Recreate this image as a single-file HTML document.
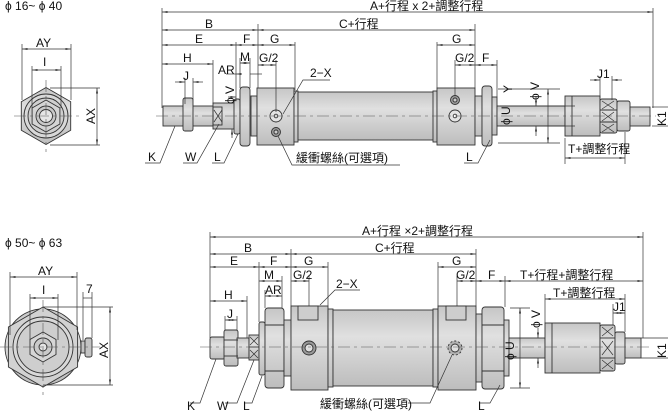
<!DOCTYPE html>
<html><head><meta charset="utf-8"><style>
html,body{margin:0;padding:0;background:#fff}
svg{display:block}
text{font-family:"Liberation Sans","Noto Sans CJK TC",sans-serif;font-size:12px;fill:#111}
.d{stroke:#333;stroke-width:.7;fill:none}
.o{stroke:#333;stroke-width:.9}
.c{stroke:#555;stroke-width:.6;stroke-dasharray:12 4 3 4;fill:none}
</style></head><body>
<svg width="669" height="413" viewBox="0 0 669 413" xmlns="http://www.w3.org/2000/svg">
<defs>
<marker id="a" markerWidth="8" markerHeight="6" refX="8" refY="3" orient="auto-start-reverse"><path d="M0,1.5 L8,3 L0,4.5z" fill="#333"/></marker>
<linearGradient id="g" x1="0" y1="0" x2="0" y2="1"><stop offset="0" stop-color="#c6c6c6"/><stop offset=".35" stop-color="#e0e0e0"/><stop offset="1" stop-color="#bdbdbd"/></linearGradient>
</defs>

<!-- ===== TOP FRONT VIEW ===== -->
<text x="5" y="10">ϕ 16~ ϕ 40</text>
<polygon class="o" fill="url(#g)" points="46,87.5 70.7,101.7 70.7,130.3 46,144.5 21.3,130.3 21.3,101.7"/>
<circle class="o" cx="46" cy="116" r="22" fill="#d8d8d8"/>
<circle class="o" cx="46" cy="116" r="18" fill="#cfcfcf"/>
<polygon class="o" fill="#d4d4d4" points="46,100 59.9,108 59.9,124 46,132 32.1,124 32.1,108"/>
<circle class="o" cx="46" cy="116" r="10" fill="#c8c8c8"/>
<circle class="o" cx="46" cy="116" r="6.5" fill="#e6e6e6"/>
<line class="c" x1="14" y1="116" x2="80" y2="116"/><line class="c" x1="46" y1="80" x2="46" y2="152"/>
<line class="d" x1="22" y1="44" x2="22" y2="100"/><line class="d" x1="71" y1="44" x2="71" y2="100"/>
<line class="d" x1="22" y1="49" x2="71" y2="49" marker-start="url(#a)" marker-end="url(#a)"/>
<text x="36" y="47">AY</text>
<line class="d" x1="32" y1="66" x2="32" y2="108"/><line class="d" x1="61" y1="66" x2="61" y2="108"/>
<line class="d" x1="32" y1="70" x2="61" y2="70" marker-start="url(#a)" marker-end="url(#a)"/>
<text x="43" y="66">I</text>
<line class="d" x1="50" y1="88" x2="100" y2="88"/><line class="d" x1="50" y1="145" x2="100" y2="145"/>
<line class="d" x1="97" y1="88" x2="97" y2="145" marker-start="url(#a)" marker-end="url(#a)"/>
<text transform="translate(95,124) rotate(-90)">AX</text>

<!-- ===== TOP SIDE VIEW ===== -->
<g class="o" fill="url(#g)">
<rect x="163" y="106" width="50" height="20"/>
<rect x="183" y="98" width="10" height="33" rx="2"/>
<rect x="213" y="103" width="23" height="26"/>
<rect x="234" y="99" width="6" height="35" rx="2"/>
<rect x="240" y="87" width="10" height="59" rx="3"/>
<rect x="251" y="96" width="6" height="40"/>
<rect x="257" y="88" width="37" height="57"/>
<rect x="294" y="91" width="4" height="51"/>
<rect x="298" y="92" width="136" height="48"/>
<rect x="433" y="91" width="4" height="51"/>
<rect x="437" y="88" width="38" height="57"/>
<rect x="475" y="96" width="7" height="40"/>
<rect x="482" y="86" width="10" height="60" rx="3"/>
<rect x="492" y="97" width="5" height="38"/>
<rect x="497" y="106" width="68" height="20"/>
<rect x="565" y="96" width="35" height="40"/>
<rect x="600" y="99" width="17" height="34" rx="2"/>
<rect x="617" y="101" width="13" height="30" rx="2"/>
<rect x="630" y="107" width="20" height="19"/>
</g>
<line class="o" x1="572" y1="96" x2="572" y2="136"/>
<line class="o" x1="600" y1="110" x2="617" y2="110"/><line class="o" x1="600" y1="122" x2="617" y2="122"/>
<path class="d" d="M602,101 l12,8 M614,101 l-12,8 M602,112 l12,9 M614,112 l-12,9 M602,124 l12,8 M614,124 l-12,8"/>
<rect class="o" x="213" y="107" width="9" height="18" fill="none"/>
<path class="d" d="M214,110 l8,12 M222,110 l-8,12"/>
<circle class="o" cx="276" cy="116" r="6" fill="#e4e4e4"/><circle class="o" cx="276" cy="116" r="1.8" fill="#fff"/>
<circle class="o" cx="276" cy="132" r="4.5" fill="#999"/><circle class="o" cx="276" cy="132" r="2" fill="#ccc"/>
<circle class="o" cx="455" cy="116" r="6" fill="#e4e4e4"/><circle class="o" cx="455" cy="116" r="1.8" fill="#fff"/>
<circle class="o" cx="455" cy="100" r="4.5" fill="#999"/><circle class="o" cx="455" cy="100" r="2" fill="#ccc"/>
<line class="c" x1="156" y1="116" x2="656" y2="116"/>

<!-- top dims -->
<g class="d">
<line x1="162" y1="8" x2="162" y2="108"/><line x1="653" y1="8" x2="653" y2="108"/>
<line x1="162" y1="12" x2="653" y2="12" marker-start="url(#a)" marker-end="url(#a)"/>
<line x1="258" y1="24" x2="258" y2="88"/><line x1="475" y1="24" x2="475" y2="88"/>
<line x1="162" y1="30" x2="258" y2="30" marker-start="url(#a)" marker-end="url(#a)"/>
<line x1="258" y1="30" x2="475" y2="30" marker-start="url(#a)" marker-end="url(#a)"/>
<line x1="236" y1="42" x2="236" y2="100"/><line x1="295" y1="42" x2="295" y2="90"/><line x1="437" y1="42" x2="437" y2="88"/>
<line x1="162" y1="45" x2="236" y2="45" marker-start="url(#a)" marker-end="url(#a)"/>
<line x1="236" y1="45" x2="258" y2="45" marker-start="url(#a)" marker-end="url(#a)"/>
<line x1="258" y1="45" x2="295" y2="45" marker-start="url(#a)" marker-end="url(#a)"/>
<line x1="437" y1="45" x2="475" y2="45" marker-start="url(#a)" marker-end="url(#a)"/>
<line x1="213" y1="60" x2="213" y2="104"/>
<line x1="162" y1="64" x2="213" y2="64" marker-start="url(#a)" marker-end="url(#a)"/>
<line x1="240" y1="58" x2="240" y2="88"/><line x1="250" y1="58" x2="250" y2="88"/>
<line x1="240" y1="63" x2="250" y2="63" marker-start="url(#a)" marker-end="url(#a)"/>
<line x1="226" y1="74" x2="236" y2="74"/><line x1="240" y1="74" x2="236" y2="74" marker-end="url(#a)"/>
<line x1="250" y1="74" x2="262" y2="74"/>
<line x1="276" y1="60" x2="276" y2="112"/>
<line x1="258" y1="65" x2="276" y2="65" marker-start="url(#a)" marker-end="url(#a)"/>
<line x1="455" y1="60" x2="455" y2="96"/><line x1="497" y1="60" x2="497" y2="97"/>
<line x1="455" y1="65" x2="475" y2="65" marker-start="url(#a)" marker-end="url(#a)"/>
<line x1="475" y1="65" x2="497" y2="65" marker-start="url(#a)" marker-end="url(#a)"/>
<line x1="185" y1="78" x2="185" y2="104"/><line x1="193" y1="78" x2="193" y2="100"/>
<line x1="175" y1="82" x2="185" y2="82" marker-end="url(#a)"/><line x1="203" y1="82" x2="193" y2="82" marker-end="url(#a)"/>
<line x1="228" y1="97" x2="236" y2="97" marker-end="url(#a)"/><line x1="232" y1="138" x2="232" y2="129" marker-end="url(#a)"/>
<line x1="498" y1="89" x2="560" y2="89"/><line x1="498" y1="143" x2="560" y2="143"/>
<line x1="548" y1="89" x2="548" y2="143" marker-start="url(#a)" marker-end="url(#a)"/>
<line x1="500" y1="106" x2="575" y2="106"/><line x1="500" y1="126" x2="575" y2="126"/>
<line x1="536" y1="96" x2="536" y2="106" marker-end="url(#a)"/><line x1="536" y1="136" x2="536" y2="126" marker-end="url(#a)"/>
<line x1="600" y1="76" x2="600" y2="99"/><line x1="612" y1="76" x2="612" y2="100"/>
<line x1="590" y1="80" x2="600" y2="80" marker-end="url(#a)"/><line x1="622" y1="80" x2="612" y2="80" marker-end="url(#a)"/>
<line x1="565" y1="138" x2="565" y2="164"/><line x1="625" y1="132" x2="625" y2="164"/>
<line x1="565" y1="158" x2="625" y2="158" marker-start="url(#a)" marker-end="url(#a)"/>
<line x1="652" y1="107" x2="668" y2="107"/><line x1="652" y1="126" x2="668" y2="126"/>
<path d="M145,163 L160,163 L175,126"/>
<path d="M183,163 L197,163 L219,124"/>
<path d="M212,163 L224,163 L238,134"/>
<path d="M283,114 L303,80 L330,80"/>
<path d="M278,136 L292,165 L400,165"/>
<path d="M464,163 L478,163 L490,140"/>
</g>
<g>
<text x="370" y="10">A+行程 x 2+調整行程</text>
<text x="205" y="28">B</text>
<text x="339" y="28">C+行程</text>
<text x="195" y="43">E</text>
<text x="243" y="43">F</text>
<text x="270" y="43">G</text>
<text x="452" y="43">G</text>
<text x="183" y="62">H</text>
<text x="240" y="61">M</text>
<text x="218" y="74">AR</text>
<text x="259" y="62">G/2</text>
<text x="455" y="62">G/2</text>
<text x="482" y="62">F</text>
<text x="183" y="80">J</text>
<text x="310" y="77">2−X</text>
<text x="597" y="78">J1</text>
<text x="148" y="161">K</text>
<text x="185" y="161">W</text>
<text x="214" y="161">L</text>
<text x="466" y="161">L</text>
<text x="296" y="162">緩衝螺絲(可選項)</text>
<text x="568" y="153">T+調整行程</text>
<text transform="translate(234,104) rotate(-90)" font-size="11">ϕ V</text>
<text transform="translate(512,93) rotate(-90)" font-size="11">Y</text>
<text transform="translate(539,100) rotate(-90)" font-size="11">ϕ V</text>
<text transform="translate(510,125) rotate(-90)" font-size="11">ϕ U</text>
<text transform="translate(666,126) rotate(-90)">K1</text>
</g>

<!-- ===== BOTTOM FRONT VIEW ===== -->
<text x="5" y="247">ϕ 50~ ϕ 63</text>
<circle class="o" cx="43" cy="347" r="38" fill="url(#g)"/>
<polygon class="o" fill="#d2d2d2" points="43,307 77.6,327 77.6,367 43,387 8.4,367 8.4,327"/>
<circle class="o" cx="43" cy="347" r="30" fill="#d8d8d8"/>
<circle class="o" cx="43" cy="347" r="26" fill="#cecece"/>
<polygon class="o" fill="#d6d6d6" points="43,332 56,339.5 56,354.5 43,362 30,354.5 30,339.5"/>
<circle class="o" cx="43" cy="347" r="9" fill="#cacaca"/>
<circle class="o" cx="43" cy="347" r="4" fill="#e4e4e4"/>
<rect class="o" x="81" y="341" width="4" height="12" fill="#c4c4c4"/>
<rect class="o" x="85" y="338" width="7" height="19" rx="2" fill="#c4c4c4"/>
<line class="c" x1="0" y1="347" x2="100" y2="347"/><line class="c" x1="43" y1="300" x2="43" y2="395"/>
<g class="d">
<line x1="10" y1="272" x2="10" y2="335"/><line x1="77" y1="272" x2="77" y2="330"/>
<line x1="10" y1="277" x2="77" y2="277" marker-start="url(#a)" marker-end="url(#a)"/>
<line x1="30" y1="294" x2="30" y2="340"/><line x1="58" y1="294" x2="58" y2="340"/>
<line x1="30" y1="298" x2="58" y2="298" marker-start="url(#a)" marker-end="url(#a)"/>
<line x1="83" y1="292" x2="83" y2="340"/><line x1="92" y1="292" x2="92" y2="338"/>
<line x1="83" y1="298" x2="92" y2="298"/>
<line x1="43" y1="307" x2="113" y2="307"/><line x1="43" y1="385" x2="113" y2="385"/>
<line x1="110" y1="307" x2="110" y2="385" marker-start="url(#a)" marker-end="url(#a)"/>
</g>
<text x="38" y="275">AY</text>
<text x="42" y="294">I</text>
<text x="86" y="293">7</text>
<text transform="translate(108,358) rotate(-90)">AX</text>

<!-- ===== BOTTOM SIDE VIEW ===== -->
<g class="o" fill="url(#g)">
<rect x="210" y="337" width="15" height="22" rx="2"/>
<rect x="224" y="330" width="14" height="36" rx="2"/>
<rect x="237" y="338" width="12" height="20"/>
<rect x="249" y="335" width="10" height="25"/>
<rect x="259" y="322" width="6" height="53" rx="2"/>
<rect x="265" y="308" width="19" height="80" rx="3"/>
<rect x="284" y="320" width="7" height="56"/>
<rect x="291" y="306" width="37" height="84"/>
<rect x="328" y="309" width="5" height="78"/>
<rect x="333" y="310" width="100" height="76"/>
<rect x="433" y="309" width="5" height="78"/>
<rect x="438" y="306" width="38" height="84"/>
<rect x="476" y="314" width="6" height="68"/>
<rect x="482" y="307" width="22" height="82" rx="3"/>
<rect x="504" y="320" width="5" height="56"/>
<rect x="509" y="338" width="36" height="20"/>
<rect x="545" y="323" width="55" height="50"/>
<rect x="600" y="325" width="15" height="46" rx="2"/>
<rect x="615" y="332" width="10" height="32" rx="2"/>
<rect x="625" y="338" width="16" height="20"/>
</g>
<line class="o" x1="552" y1="323" x2="552" y2="373"/>
<line class="o" x1="600" y1="338" x2="615" y2="338"/><line class="o" x1="600" y1="358" x2="615" y2="358"/>
<line class="o" x1="265" y1="325" x2="284" y2="325"/><line class="o" x1="265" y1="371" x2="284" y2="371"/>
<line class="o" x1="482" y1="325" x2="504" y2="325"/><line class="o" x1="482" y1="371" x2="504" y2="371"/>
<line class="o" x1="224" y1="340" x2="238" y2="340"/><line class="o" x1="224" y1="356" x2="238" y2="356"/>
<path class="d" d="M602,327 l11,9 M613,327 l-11,9 M602,341 l11,14 M613,341 l-11,14 M602,360 l11,9 M613,360 l-11,9"/>
<path class="d" d="M250,337 l8,8 M258,337 l-8,8 M250,350 l8,8 M258,350 l-8,8"/>
<line class="o" x1="249" y1="347" x2="259" y2="347"/>
<rect class="o" x="298" y="306" width="20" height="14" fill="#cdcdcd"/>
<rect class="o" x="446" y="306" width="20" height="14" fill="#cdcdcd"/>
<circle class="o" cx="309" cy="348" r="7" fill="#999"/><circle class="o" cx="309" cy="348" r="4" fill="#e0e0e0"/>
<circle class="o" cx="455" cy="348" r="7" fill="#b0b0b0" stroke-dasharray="2 2"/><circle class="o" cx="455" cy="348" r="4" fill="#e0e0e0"/>
<line class="c" x1="200" y1="347" x2="650" y2="347"/>

<g class="d">
<line x1="210" y1="232" x2="210" y2="338"/><line x1="643" y1="232" x2="643" y2="338"/>
<line x1="210" y1="237" x2="643" y2="237" marker-start="url(#a)" marker-end="url(#a)"/>
<line x1="291" y1="249" x2="291" y2="306"/><line x1="476" y1="249" x2="476" y2="306"/>
<line x1="210" y1="254" x2="291" y2="254" marker-start="url(#a)" marker-end="url(#a)"/>
<line x1="291" y1="254" x2="476" y2="254" marker-start="url(#a)" marker-end="url(#a)"/>
<line x1="259" y1="262" x2="259" y2="322"/><line x1="328" y1="262" x2="328" y2="306"/><line x1="438" y1="262" x2="438" y2="306"/>
<line x1="210" y1="267" x2="259" y2="267" marker-start="url(#a)" marker-end="url(#a)"/>
<line x1="259" y1="267" x2="291" y2="267" marker-start="url(#a)" marker-end="url(#a)"/>
<line x1="291" y1="267" x2="328" y2="267" marker-start="url(#a)" marker-end="url(#a)"/>
<line x1="438" y1="267" x2="476" y2="267" marker-start="url(#a)" marker-end="url(#a)"/>
<line x1="282" y1="276" x2="282" y2="308"/><line x1="265" y1="290" x2="265" y2="308"/>
<line x1="259" y1="281" x2="282" y2="281" marker-start="url(#a)" marker-end="url(#a)"/>
<line x1="265" y1="296" x2="282" y2="296" marker-start="url(#a)" marker-end="url(#a)"/>
<line x1="309" y1="276" x2="309" y2="306"/><line x1="457" y1="276" x2="457" y2="306"/><line x1="505" y1="276" x2="505" y2="307"/>
<line x1="291" y1="281" x2="309" y2="281" marker-start="url(#a)" marker-end="url(#a)"/>
<line x1="457" y1="281" x2="476" y2="281" marker-start="url(#a)" marker-end="url(#a)"/>
<line x1="476" y1="281" x2="505" y2="281" marker-start="url(#a)" marker-end="url(#a)"/>
<line x1="505" y1="281" x2="643" y2="281" marker-start="url(#a)" marker-end="url(#a)"/>
<line x1="247" y1="296" x2="247" y2="338"/>
<line x1="210" y1="301" x2="247" y2="301" marker-start="url(#a)" marker-end="url(#a)"/>
<line x1="225" y1="316" x2="225" y2="330"/><line x1="237" y1="316" x2="237" y2="330"/>
<line x1="225" y1="320" x2="237" y2="320" marker-start="url(#a)" marker-end="url(#a)"/>
<line x1="545" y1="294" x2="545" y2="323"/><line x1="625" y1="294" x2="625" y2="332"/><line x1="613" y1="304" x2="613" y2="325"/>
<line x1="545" y1="299" x2="625" y2="299" marker-start="url(#a)" marker-end="url(#a)"/>
<line x1="613" y1="313" x2="625" y2="313" marker-start="url(#a)" marker-end="url(#a)"/>
<line x1="510" y1="308" x2="530" y2="308"/><line x1="510" y1="388" x2="530" y2="388"/>
<line x1="520" y1="308" x2="520" y2="388" marker-start="url(#a)" marker-end="url(#a)"/>
<line x1="538" y1="328" x2="538" y2="338" marker-end="url(#a)"/><line x1="538" y1="368" x2="538" y2="358" marker-end="url(#a)"/>
<line x1="641" y1="338" x2="668" y2="338"/><line x1="641" y1="358" x2="668" y2="358"/>
<path d="M320,305 L335,290 L360,290"/>
<path d="M190,403 L200,403 L216,359"/>
<path d="M225,403 L237,403 L254,360"/>
<path d="M245,403 L252,403 L262,376"/>
<path d="M408,403 L430,403 L452,355"/>
<path d="M480,403 L490,403 L500,385"/>
</g>
<g>
<text x="362" y="235">A+行程 ×2+調整行程</text>
<text x="244" y="252">B</text>
<text x="375" y="252">C+行程</text>
<text x="230" y="265">E</text>
<text x="270" y="265">F</text>
<text x="304" y="265">G</text>
<text x="452" y="265">G</text>
<text x="264" y="279">M</text>
<text x="265" y="294">AR</text>
<text x="293" y="279">G/2</text>
<text x="456" y="279">G/2</text>
<text x="488" y="279">F</text>
<text x="520" y="279">T+行程+調整行程</text>
<text x="553" y="297">T+調整行程</text>
<text x="613" y="311">J1</text>
<text x="224" y="299">H</text>
<text x="227" y="318">J</text>
<text x="336" y="288">2−X</text>
<text x="187" y="410">K</text>
<text x="217" y="410">W</text>
<text x="243" y="410">L</text>
<text x="478" y="410">L</text>
<text x="320" y="408">緩衝螺絲(可選項)</text>
<text transform="translate(540,328) rotate(-90)" font-size="11">ϕ V</text>
<text transform="translate(514,360) rotate(-90)" font-size="11">ϕ U</text>
<text transform="translate(666,358) rotate(-90)">K1</text>
</g>
</svg>
</body></html>
